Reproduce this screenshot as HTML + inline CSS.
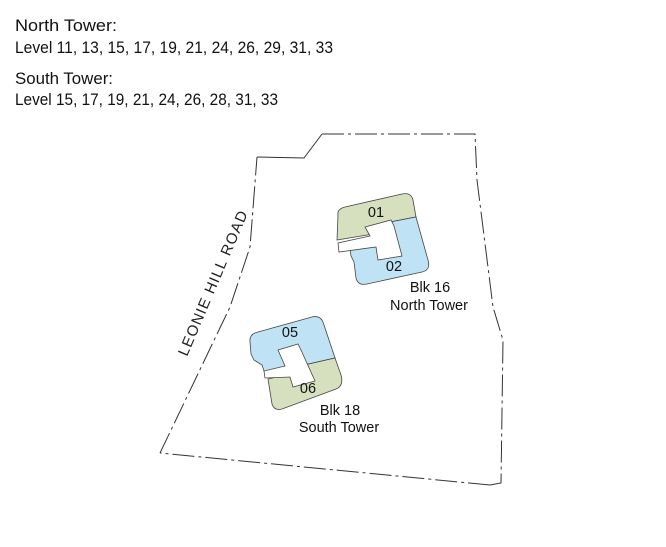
<!DOCTYPE html>
<html><head><meta charset="utf-8"><style>
html,body{margin:0;padding:0;background:#fff;}
svg{display:block;}
</style></head><body>
<svg width="666" height="547" viewBox="0 0 666 547" xmlns="http://www.w3.org/2000/svg" font-family="Liberation Sans, Arial, sans-serif">
<g font-size="17" fill="#111">
<text x="15" y="31" textLength="102" lengthAdjust="spacingAndGlyphs">North Tower:</text>
<text x="15" y="53" textLength="318" lengthAdjust="spacingAndGlyphs">Level 11, 13, 15, 17, 19, 21, 24, 26, 29, 31, 33</text>
<text x="15" y="84" textLength="98" lengthAdjust="spacingAndGlyphs">South Tower:</text>
<text x="15" y="105" textLength="263" lengthAdjust="spacingAndGlyphs">Level 15, 17, 19, 21, 24, 26, 28, 31, 33</text>
</g>
<g fill="none" stroke="#333" stroke-width="1">
<polyline points="257,157 304,158 322,134"/>
<polyline points="322,134 475,134 477,180 493,307 503,340 501,483 490,485" stroke-dasharray="22,4,3,4"/>
<polyline points="490,485 160,453" stroke-dasharray="22,4,3,4"/>
<polyline points="160,453 230,307 250,247 257,157" stroke-dasharray="22,4,3,4"/>
</g>
<text x="0" y="0" font-size="15" fill="#222" letter-spacing="1.2" transform="translate(187,357) rotate(-67)">LEONIE HILL ROAD</text>
<!-- North tower -->
<g stroke="#444" stroke-width="0.8">
<path d="M338,215 Q337,209 345,207 L402,194 Q411,192 413,200 L416,217 L385,223 L385,232 L337,240 Z" fill="#d6e0bf"/>
<path d="M416,217 L428,260 Q431,270 422,272 L367,284 Q358,286 356,278 L354,262 L351,256 L350,248 L385,240 L385,223 Z" fill="#bfe3f4"/>
<path d="M365,227 L391,220 L394,226 L402,256 L378,260 L376,247 L339,252 L338,243 L370,236 Z" fill="#fff"/>
</g>
<!-- South tower -->
<g stroke="#444" stroke-width="0.8">
<path d="M250,342 Q249,334 258,332 L312,317 Q320,315 323,322 L335,358 L300,366 L300,372 L265,374 L262,365 L254,360 L251,354 Z" fill="#bfe3f4"/>
<path d="M335,358 L341,375 Q344,386 336,389 L282,409 Q274,411 272,404 L268,379 L300,372 L300,366 Z" fill="#d6e0bf"/>
<path d="M278,350 L298,344 L301,350 L315,381 L293,387 L290,377 L265,378 L264,371 L285,366 Z" fill="#fff"/>
</g>
<g font-size="14.5" fill="#111" text-anchor="middle">
<text x="376" y="217">01</text>
<text x="394" y="271">02</text>
<text x="290" y="337">05</text>
<text x="308" y="393">06</text>
<text x="430" y="292">Blk 16</text>
<text x="429" y="310">North Tower</text>
<text x="340" y="415">Blk 18</text>
<text x="339" y="432">South Tower</text>
</g>
</svg>
</body></html>
